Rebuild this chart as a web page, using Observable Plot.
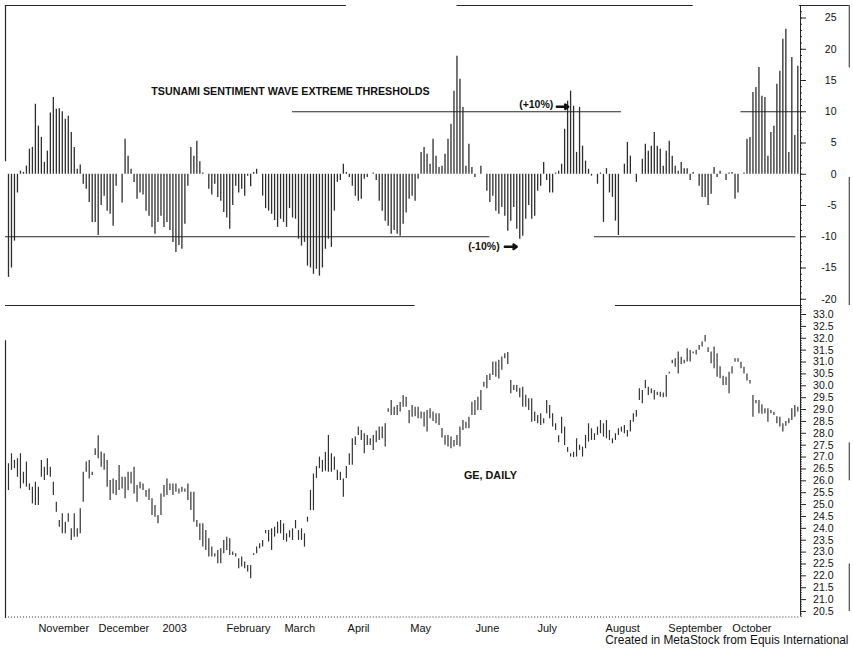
<!DOCTYPE html>
<html><head><meta charset="utf-8">
<script src="https://cdn.jsdelivr.net/npm/d3@7"></script>
<script src="https://cdn.jsdelivr.net/npm/@observablehq/plot@0.6"></script>
<style>
body{margin:0;background:#fff;}
#chart{position:relative;width:853px;height:651px;overflow:hidden;background:#fff;}
#chart svg{display:block;overflow:visible;}
</style></head><body><div id="chart"></div>
<script>
// Tsunami Sentiment Wave (%), one value per trading day (index 0 = mid-Oct 2002)
const sentiment = [
-16.5,-15,-10.7,-3,0.5,0.3,1.3,4,4.3,11.2,7.7,5.9,1.9,3.7,9.8,12.3,10.4,10.5,10,8.8,
9.3,6.7,4.3,0.8,1.5,-1.6,-2.4,-4.5,-7.7,-7.7,-9.8,-5,-3.5,-5.9,-6.4,-8.3,-1.9,0,-4.6,5.6,
2.9,0.8,-1.3,-4,-3,-3.3,-5.9,-6.7,-8.5,-9.6,-7.7,-6.7,-8.5,-7.7,-9,-10.9,-12.5,-11.4,-12,-8,
-1.9,4.3,2.9,5.3,2,0.2,0,-2.4,-3.3,-1.6,-3.7,-4.3,-6.1,-7,-8.8,-5,-1.9,-3,-2.4,-3.5,
-0.3,-2,0.3,0.8,0,-3.5,-5.5,-5.9,-6.4,-7.4,-8.5,-7.2,-7.7,-8.5,-5.5,-7,-7.2,-10.4,-11.5,-10.9,
-14.7,-15,-16,-15.2,-16.3,-15,-12,-10.4,-11.7,-5.9,-1.3,-1,1.6,0.3,-0.5,-1.9,-3.5,-4.3,-4,-0.8,
-0.5,0,0.2,-1,-4.3,-5.9,-7.5,-8.3,-9.6,-9,-9.6,-9.9,-8,-6.2,-4,-3.5,-4.3,-0.8,3.5,4.3,
3.2,1.6,5.6,2.9,1.1,1.3,3.2,5.6,8,13.3,18.9,15.2,10.7,1.3,4.8,1.1,-0.5,0,1.3,0,
-2.7,-4.5,-3.5,-5.9,-6.4,-5.3,-6.7,-9.1,-7.5,-5.3,-8.8,-10.4,-9.9,-7.2,-5,-7.2,-6.7,-2.7,-1.9,1.9,
-1,-3,-3,0.2,0.5,1.6,7.2,11.7,13.3,10.9,3.5,10.7,4.5,2.1,0.8,-0.3,0,-1.6,0.2,-7.7,
0.9,-3,-3.7,-7.5,-9.8,0,1.6,5.1,2.9,0,-1.3,0,2.4,4.8,3.7,4.5,6.7,4.5,4,1.3,
3.7,5.3,2.9,1.3,0.5,1.9,0.9,0.9,-1,0.3,0,-1.9,-3.7,-3.7,-5,-3.2,1.1,-0.5,0.5,0,
-1,0.2,0.3,-4,-3,0,0.2,5.6,5.9,13.1,13.9,17.1,12.5,12.3,2.9,6.7,7.7,14.4,16.5,21.6,
23.2,3.5,18.7,6.2,17.3
];
// GE daily high / low (USD)
const geHigh = [
26.72,27.14,26.86,26.93,27.14,26.36,26.79,25.87,25.73,25.94,25.73,26.86,26.57,26.93,26.57,25.94,25.10,24.33,24.61,24.26,
24.61,23.98,24.61,23.98,24.82,26.36,26.79,26.86,26.36,27.35,27.9,27.21,27.14,26.86,26.01,26.08,26.01,26.64,26.15,26.15,
26.36,26.36,26.57,25.80,25.94,25.87,25.59,25.66,25.24,24.96,24.54,25.45,25.80,26.08,25.87,25.87,25.87,25.66,25.73,25.66,
25.87,25.52,25.52,24.33,24.19,24.19,23.91,23.56,23.21,22.93,23.07,23.14,23.49,23.63,23.56,23.00,22.93,22.72,22.79,22.58,
22.44,22.44,22.93,23.21,23.35,23.49,23.91,23.91,23.98,24.05,24.26,24.33,24.19,23.77,23.9,23.98,24.33,23.91,23.98,23.77,
24.47,25.59,26.29,26.6,27.0,26.86,27.2,27.91,27.14,27.0,26.44,26.36,26.08,26.6,27.14,27.77,27.84,28.26,28.12,27.98,
27.91,27.77,27.91,28.1,28.26,28.26,28.40,29.03,29.38,29.10,29.17,29.3,29.59,29.52,28.96,29.17,29.1,29.10,28.9,28.89,
28.96,29.03,28.9,28.82,28.82,28.2,27.9,27.91,27.84,27.7,27.91,28.26,28.54,28.47,28.68,29.31,29.38,29.52,29.80,30.15,
30.43,30.50,31.0,31.0,31.07,31.21,31.35,31.4,30.22,30.01,30.01,29.9,29.94,29.6,29.45,29.45,28.9,28.75,28.82,28.61,
29.38,29.17,28.82,28.40,27.9,28.68,28.26,27.4,27.14,27.2,27.77,27.5,27.42,27.91,28.40,28.19,27.98,28.26,28.54,28.40,
28.54,28.12,27.77,27.98,28.19,28.26,28.33,28.12,28.54,28.82,28.96,29.87,29.80,30.22,29.94,29.87,29.8,29.73,29.73,29.7,
30.43,30.57,31.07,31.14,31.42,31.2,31.07,31.56,31.49,31.42,31.5,31.7,31.84,32.12,31.6,31.42,31.63,31.35,30.8,30.4,
30.36,30.57,30.8,31.14,31.14,30.99,30.78,30.5,30.22,29.59,29.38,29.38,29.2,29.03,29.03,28.96,28.89,28.7,28.68,28.40,
28.5,28.61,29.03,29.17,29.1
];
const geLow = [
25.59,26.44,26.51,26.15,25.66,25.87,25.73,25.59,25.03,24.96,24.96,26.15,26.01,26.22,26.15,25.38,24.68,24.05,23.77,23.77,
24.26,23.49,23.63,23.63,23.77,25.10,26.36,26.08,26.22,27.07,26.93,26.57,26.44,25.73,25.17,25.45,25.38,25.59,25.66,25.24,
25.59,25.87,25.45,25.10,25.66,25.59,25.31,25.17,24.54,24.47,24.19,24.54,25.31,25.38,25.59,25.38,25.52,25.45,25.52,25.52,
25.17,24.75,24.26,24.05,23.49,23.21,23.07,22.79,22.79,22.79,22.51,22.51,22.93,23.07,22.86,22.86,22.79,22.30,22.37,22.30,
22.16,21.88,22.86,22.93,23.14,23.21,23.77,23.42,23.07,23.63,23.77,23.77,23.49,23.42,23.6,23.49,23.98,23.49,23.49,23.21,
24.26,24.75,24.75,26.1,26.51,26.36,26.4,26.36,26.36,26.44,26.01,26.01,25.31,26.1,26.65,26.65,27.49,27.91,27.70,27.14,
27.49,27.49,27.28,27.6,27.70,27.77,27.42,28.89,28.75,28.75,28.75,28.9,29.10,29.10,28.40,28.68,28.7,28.61,28.6,28.26,
28.05,28.61,28.5,28.40,28.33,27.8,27.5,27.42,27.35,27.42,27.49,27.42,28.12,28.19,28.19,28.75,28.75,28.96,28.96,29.94,
29.87,30.22,30.43,30.36,30.29,30.65,31.14,30.9,29.66,29.8,29.73,29.5,29.10,29.1,28.96,28.47,28.5,28.40,28.33,28.40,
28.82,28.61,28.26,28.12,27.6,27.98,27.49,27.2,27.0,26.98,27.0,27.28,27.0,27.35,27.63,27.70,27.70,27.91,27.98,27.84,
27.77,27.70,27.56,27.70,27.91,28.05,27.98,27.84,28.05,28.47,28.68,29.38,29.24,29.87,29.59,29.66,29.4,29.59,29.52,29.5,
29.52,30.50,30.93,30.78,30.50,30.9,30.93,31.0,31.0,31.35,31.3,31.5,31.63,31.84,31.4,30.93,30.72,30.36,30.3,30.0,
30.01,29.66,30.5,30.99,30.99,30.72,30.50,30.2,30.08,28.68,29.24,28.82,28.8,28.82,28.47,28.82,28.75,28.4,28.26,28.05,
28.3,28.40,28.54,28.68,28.9
];
// Axis tick labels
const sentimentTicks = [-20,-15,-10,-5,0,5,10,15,20,25];
const priceTicks = [20.5,21,21.5,22,22.5,23,23.5,24,24.5,25,25.5,26,26.5,27,27.5,28,28.5,29,29.5,30,30.5,31,31.5,32,32.5,33];
const monthLabels = ["November","December","2003","February","March","April","May","June","July","August","September","October"];
const monthPos = [10.0,30.1,51.5,72.9,92.3,113.4,134.4,156.2,176.9,199.7,220.7,242.1];
// Threshold lines (level, start index, end index)
const thresholdLevel = [-10,-10,10,10];
const thresholdFrom = [-1,196,95,245];
const thresholdTo = [161,263.3,205,264.9];

const sent = sentiment.map((v,i)=>({i,v}));
const ge = geHigh.map((h,i)=>({i,high:h,low:geLow[i]}));
const thresholds = thresholdLevel.map((l,k)=>({level:l,from:thresholdFrom[k],to:thresholdTo[k]}));
const months = monthLabels.map((m,k)=>({label:m,pos:monthPos[k]}));
// annotation arrows pointing at the threshold lines
const pointers = [{x1:183.4,x2:187.2,y1:10.8,y2:10.8},{x1:166,x2:170,y1:-11.6,y2:-11.6}];

const xDomain = [-1, 264.9];
const xRight = xDomain[1];
const pxX = (795)/(xDomain[1]-xDomain[0]); // px per index unit
const font = "'Liberation Sans', Arial, sans-serif";
const ink = "#262626";

const topPanel = Plot.plot({
  width: 853, height: 306, marginTop: 5, marginBottom: 1, marginLeft: 5, marginRight: 53,
  x: {domain: xDomain, axis: null},
  y: {domain: [-21, 27], axis: null},
  style: {fontFamily: font, background: "white", overflow: "visible"},
  marks: [
    // panel edges
    Plot.ruleY([{y:27,a:-1,b:113},{y:27,a:150,b:229},{y:27,a:264.5,b:281.2},{y:-21,a:-1,b:136},{y:-21,a:203,b:264.9}],
      {y:"y", x1:"a", x2:"b", stroke: ink, strokeWidth: 1.2}),
    Plot.ruleX([-1], {y1: 27, y2: 2, stroke: ink, strokeWidth: 1.2}),
    Plot.ruleX([281.2], {y1: 27, y2: 17, stroke: ink, strokeWidth: 1}),
    Plot.ruleX([281.2], {y1: -0.5, y2: -21, stroke: ink, strokeWidth: 1}),
    // axis line
    Plot.ruleX([xRight], {y1: 27, y2: -21, stroke: ink, strokeWidth: 1}),
    // minor ticks
    Plot.ruleY(d3.range(-21, 28), {y: d=>d, x1: xRight, x2: xRight + 2/pxX, stroke: ink, strokeWidth: 1}),
    // bars
    Plot.ruleX(sent, {x: "i", y1: 0, y2: "v", stroke: "#2e2e2e", strokeWidth: 1.3}),
    // thresholds
    Plot.ruleY(thresholds, {y: "level", x1: "from", x2: "to", stroke: ink, strokeWidth: 1.2}),
    Plot.axisY({anchor: "right", ticks: sentimentTicks, tickSize: 5, tickPadding: 31, textAnchor: "end",
      fontSize: 10.5, fill: "#111", stroke: ink, tickFormat: d => String(d)}),
    // annotations
    Plot.text(["TSUNAMI SENTIMENT WAVE EXTREME THRESHOLDS"], {x: 94.3, y: 13.2, fontWeight: "bold", fontSize: 10.7, fill: "#111"}),
    Plot.text(["(+10%)"], {x: 176.5, y: 11.2, fontWeight: "bold", fontSize: 10.5, fill: "#111"}),
    Plot.text(["(-10%)"], {x: 159, y: -11.5, fontWeight: "bold", fontSize: 10.5, fill: "#111"}),
    Plot.arrow(pointers, {x1: "x1", y1: "y1", x2: "x2", y2: "y2", stroke: "#111", strokeWidth: 2.4, headLength: 6, headAngle: 70})
  ]
});

const yBot = [20.205, 33.337];
const pxY = 312/(yBot[1]-yBot[0]);
const bottomPanel = Plot.plot({
  width: 853, height: 345, marginTop: 0, marginBottom: 33, marginLeft: 5, marginRight: 53,
  x: {domain: xDomain, axis: null},
  y: {domain: yBot, axis: null},
  style: {fontFamily: font, background: "white", overflow: "visible"},
  marks: [
    Plot.ruleX([-1], {y1: 31.9, y2: 20.2, stroke: ink, strokeWidth: 1.2}),
    Plot.ruleX([281.2], {y1: 27.6, y2: 26.0, stroke: ink, strokeWidth: 1}),
    Plot.ruleX([281.2], {y1: 22.5, y2: 20.5, stroke: ink, strokeWidth: 1}),
    Plot.ruleX([xRight], {y1: yBot[1], y2: 20.3, stroke: ink, strokeWidth: 1}),
    Plot.ruleY(d3.range(203, 334).map(d=>d/10), {y: d=>d, x1: xRight, x2: xRight + 2/pxX, stroke: ink, strokeWidth: 0.8}),
    Plot.ruleX(d3.range(0, 265), {x: d=>d, y1: yBot[0], y2: yBot[0] + 2/pxY, stroke: "#666", strokeWidth: 0.7}),
    Plot.ruleX(ge, {x: "i", y1: "low", y2: "high", stroke: "#333", strokeWidth: 1.2}),
    Plot.axisY({anchor: "right", ticks: priceTicks, tickSize: 5, tickPadding: 28, textAnchor: "end",
      fontSize: 10.5, fill: "#111", stroke: ink, tickFormat: d3.format(".1f")}),
    Plot.text(months, {x: "pos", y: yBot[0], text: "label", dy: 10, textAnchor: "start", fontSize: 11, fill: "#111"}),
    Plot.text(["GE, DAILY"], {x: 161.2, y: 26.22, fontWeight: "bold", fontSize: 10.8, fill: "#111"}),
    Plot.text(["Created in MetaStock from Equis International"], {frameAnchor: "bottom-right", dx: 48, dy: 25, textAnchor: "end", fontSize: 11.9, fill: "#111"})
  ]
});

const root = document.getElementById("chart");
root.appendChild(topPanel);
root.appendChild(bottomPanel);
</script>
</body></html>
